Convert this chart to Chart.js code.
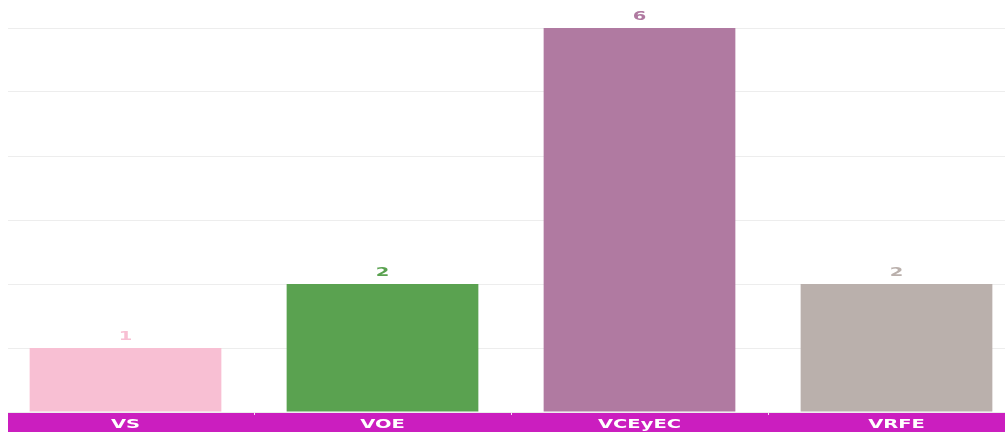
<!DOCTYPE html>
<html>
<head>
<meta charset="utf-8">
<script src="https://cdn.jsdelivr.net/npm/chart.js@4"></script>
<style>
  html, body { margin: 0; padding: 0; background: #fff; overflow: hidden; }
  #wrap { position: relative; width: 1005px; height: 432px; overflow: hidden; }
  #box { position: absolute; left: -3px; top: 0; width: 1028px; height: 432px; }
  #mask { position: absolute; left: 0; top: 0; width: 8px; height: 432px; background: #fff; }
</style>
</head>
<body>
<div id="wrap">
  <div id="box"><canvas id="chart"></canvas></div>
  <div id="mask"></div>
</div>
<script>
const categories = ['VS', 'VOE', 'VCEyEC', 'VRFE'];
const counts = [1, 2, 6, 2];
const barColors = ['#F8BFD3', '#5AA250', '#B07AA1', '#BAB0AC'];
const yTicks = [0, 1, 2, 3, 4, 5, 6];

// the reference text is drawn wide, so stretch it horizontally
const STRETCH = 1.5;

function wideText(ctx, text, x, y) {
    ctx.save();
    ctx.translate(x, y);
    ctx.scale(STRETCH, 1);
    ctx.fillText(text, 0, 0);
    ctx.restore();
}

// magenta band behind the category labels
const axisBand = {
    id: 'axisBand',
    beforeDraw(chart) {
        const x = chart.scales.x;
        const ctx = chart.ctx;
        ctx.save();
        ctx.fillStyle = '#CB1EBF';
        ctx.fillRect(x.left, x.top, x.right - x.left, chart.height - x.top);
        ctx.restore();
    }
};

// category names on the band + value above each bar
const labelsPlugin = {
    id: 'labelsPlugin',
    afterDraw(chart) {
        const ctx = chart.ctx;
        const xs = chart.scales.x;
        const meta = chart.getDatasetMeta(0);
        ctx.save();
        ctx.textAlign = 'center';
        ctx.textBaseline = 'middle';
        ctx.font = '600 13px "DejaVu Sans"';
        ctx.fillStyle = '#ffffff';
        categories.forEach((c, i) => {
            wideText(ctx, c, xs.getPixelForTick(i), xs.top + 13);
        });
        ctx.font = '600 13px "DejaVu Sans"';
        ctx.textBaseline = 'bottom';
        meta.data.forEach((bar, i) => {
            ctx.fillStyle = barColors[i];
            wideText(ctx, String(counts[i]), bar.x, bar.y - 5);
        });
        ctx.restore();
    }
};

new Chart(document.getElementById('chart'), {
    type: 'bar',
    data: {
        labels: categories,
        datasets: [{
            data: counts,
            backgroundColor: barColors,
            categoryPercentage: 1,
            barPercentage: 0.746
        }]
    },
    options: {
        responsive: true,
        maintainAspectRatio: false,
        animation: false,
        layout: { padding: { top: 28, left: 0, right: 0, bottom: 0 } },
        plugins: { legend: { display: false }, tooltip: { enabled: false } },
        scales: {
            x: {
                border: { display: false },
                afterFit(axis) { axis.height = 20; },
                grid: {
                    display: true,
                    offset: true,
                    drawOnChartArea: false,
                    drawTicks: true,
                    tickLength: 3,
                    color: 'rgba(255,255,255,0.85)'
                },
                ticks: { display: false }
            },
            y: {
                display: true,
                min: 0,
                max: yTicks[yTicks.length - 1],
                afterBuildTicks(axis) {
                    axis.ticks = yTicks.map(v => ({ value: v }));
                },
                afterFit(axis) { axis.width = 0; },
                border: { display: false },
                grid: { color: '#EDEDED', drawTicks: false },
                ticks: { display: false }
            }
        }
    },
    plugins: [axisBand, labelsPlugin]
});
</script>
</body>
</html>
